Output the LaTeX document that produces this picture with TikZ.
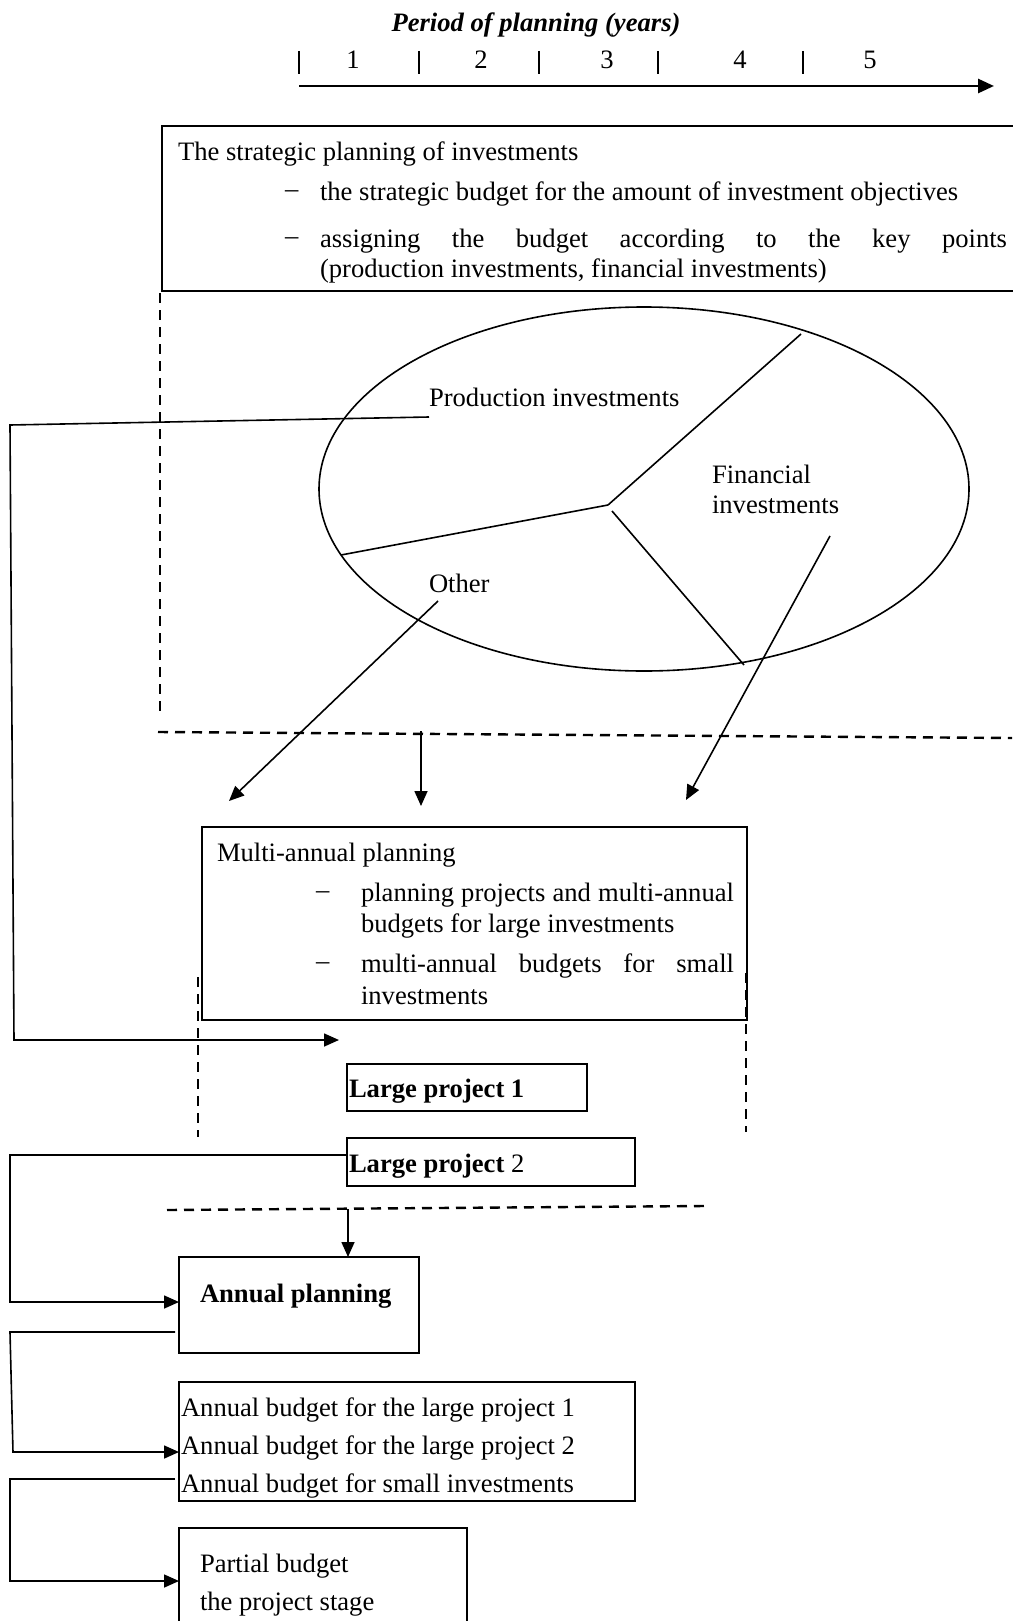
\documentclass[tikz,border=0pt]{standalone}
\usepackage{fontspec}
\setmainfont{Liberation Serif}
\usetikzlibrary{arrows.meta,shapes.geometric,fit}
\newcommand\diagfont{\fontsize{13.3pt}{15.3pt}\selectfont}

\begin{document}
\begin{tikzpicture}[x=0.5pt,y=-0.5pt,
  every node/.style={inner sep=0pt, outer sep=0pt},
  lbl/.style={anchor=west, font=\diagfont, yshift=-1.5pt},
  frame/.style={line width=1pt},
  boxnode/.style={fit={#1}, inner sep=0pt, draw, line width=1pt},
  link/.style={line width=0.8pt},
  arrowlink/.style={link, -{Triangle[length=7.5pt,width=6.5pt]}},
  dashline/.style={line width=1.2pt, dash pattern=on 5pt off 3.5pt},
]
\useasboundingbox (0,0) rectangle (1012,1621);

% ---------- time axis ----------
\node[font=\diagfont\bfseries\itshape] (axisTitle) at (536,25) {Period of planning (years)};
\foreach \x in {299,419,539,658,803} \draw[line width=1pt] (\x,51) -- (\x,74);
\foreach \x/\n in {353/1,481/2,607/3,740/4,870/5}
  \node[font=\diagfont] (year\n) at (\x,60) {\n};
\coordinate (axisStart) at (299,86);
\coordinate (axisEnd) at (994,86);
\draw[line width=1.4pt, -{Triangle[length=8pt,width=7pt]}] (axisStart) -- (axisEnd);

% ---------- strategic planning (open on the right) ----------
\node[fit={(162,126) (1014,291)}] (strat) {};
\draw[frame] (strat.north east) -- (strat.north west) -- (strat.south west) -- (strat.south east);
\node[lbl] (stratT)  at (178,151) {The strategic planning of investments};
\node[lbl] (stratD1) at (285,191) {–};
\node[lbl] (stratL1) at (320,191) {the strategic budget for the amount of investment objectives};
\node[lbl] (stratD2) at (285,238) {–};
\node[lbl] (stratL2) at (320,238) {\makebox[343.5pt][s]{assigning the budget according to the key points}};
\node[lbl] (stratL3) at (320,268) {(production investments, financial investments)};

% ---------- split of the budget ----------
\node[draw, ellipse, line width=0.8pt, minimum width=325pt, minimum height=182pt] (pie) at (644,489) {};
\coordinate (hub) at (608,505);
\coordinate (rimTR) at (801,334);
\coordinate (rimL) at (341,555);
\coordinate (rimB) at (744,665);
\draw[link] (hub) -- (rimTR);
\draw[link] (hub) -- (rimL);
\draw[link] ([shift={(4,6)}]hub) -- (rimB);
\node[lbl] (prod)  at (429,394) {Production investments};
\node[lbl] (fin1)  at (712,471) {Financial};
\node[lbl] (fin2)  at (712,502) {investments};
\node[lbl] (other) at (429,580) {Other};

% ---------- dashed frame of the strategic level ----------
\draw[dashline] (160,293) -- (160,713);
\draw[dashline] (158,732) -- (1012,738);

% ---------- multi-annual planning ----------
\node[boxnode={(202,827) (747,1020)}] (multi) {};
\node[lbl] (multiT)  at (217,852) {Multi-annual planning};
\node[lbl] (multiD1) at (316,892) {–};
\node[lbl] (multiL1) at (361,892) {\makebox[186.5pt][s]{planning projects and multi-annual}};
\node[lbl] (multiL2) at (361,923) {budgets for large investments};
\node[lbl] (multiD2) at (316,963) {–};
\node[lbl] (multiL3) at (361,963) {\makebox[186.5pt][s]{multi-annual budgets for small}};
\node[lbl] (multiL4) at (361,993) {investments};

\draw[dashline] (198,977) -- (198,1137);
\draw[dashline] (746,973) -- (746,1132);

% ---------- large projects ----------
\node[boxnode={(347,1064) (587,1111)}] (lp1) {};
\node[lbl] (lp1T) at (349,1088) {\textbf{Large project 1}};
\node[boxnode={(347,1138) (635,1186)}] (lp2) {};
\node[lbl] (lp2T) at (349,1163) {\textbf{Large project} 2};

\draw[dashline] (167,1210) -- (705,1206);

% ---------- annual level ----------
\node[boxnode={(179,1257) (419,1353)}] (annual) {};
\node[lbl] (annualT) at (200,1293) {\textbf{Annual planning}};

\node[boxnode={(179,1382) (635,1501)}] (budgets) {};
\node[lbl] (budget1) at (181,1407) {Annual budget for the large project 1};
\node[lbl] (budget2) at (181,1445) {Annual budget for the large project 2};
\node[lbl] (budget3) at (181,1483) {Annual budget for small investments};

\node[fit={(179,1528) (467,1624)}] (partial) {};
\draw[frame] (partial.south west) -- (partial.north west) -- (partial.north east) -- (partial.south east);
\node[lbl] (partialT1) at (200,1563) {Partial budget};
\node[lbl] (partialT2) at (200,1601) {the project stage};

% ---------- connectors ----------
\coordinate (prodFoot) at (429,417);
\coordinate (lpEntry) at (339,1040);
\draw[arrowlink] (prodFoot) -- (10,425) -- (14,1040) -- (lpEntry);

\coordinate (otherFoot) at (438,601);
\coordinate (multiInL) at (229,801);
\draw[arrowlink] (otherFoot) -- (multiInL);

\coordinate (split) at (421,731);
\coordinate (multiInM) at (421,806);
\draw[arrowlink] (split) -- (multiInM);

\coordinate (finFoot) at (830,536);
\coordinate (multiInR) at (686,800);
\draw[arrowlink] (finFoot) -- (multiInR);

\coordinate (lp2Out) at (347,1155);
\draw[arrowlink] (lp2Out) -- (10,1155) -- (10,1302) -- (annual.west |- 0,1302);

\coordinate (drop) at (348,1209);
\draw[arrowlink] (drop) -- (drop |- annual.north);

\coordinate (annualOut) at (175,1332);
\draw[arrowlink] (annualOut) -- (10,1332) -- (13,1452) -- (budgets.west |- 0,1452);

\coordinate (budgetsOut) at (175,1479);
\draw[arrowlink] (budgetsOut) -- (10,1479) -- (10,1581) -- (partial.west |- 0,1581);
\end{tikzpicture}
\end{document}
